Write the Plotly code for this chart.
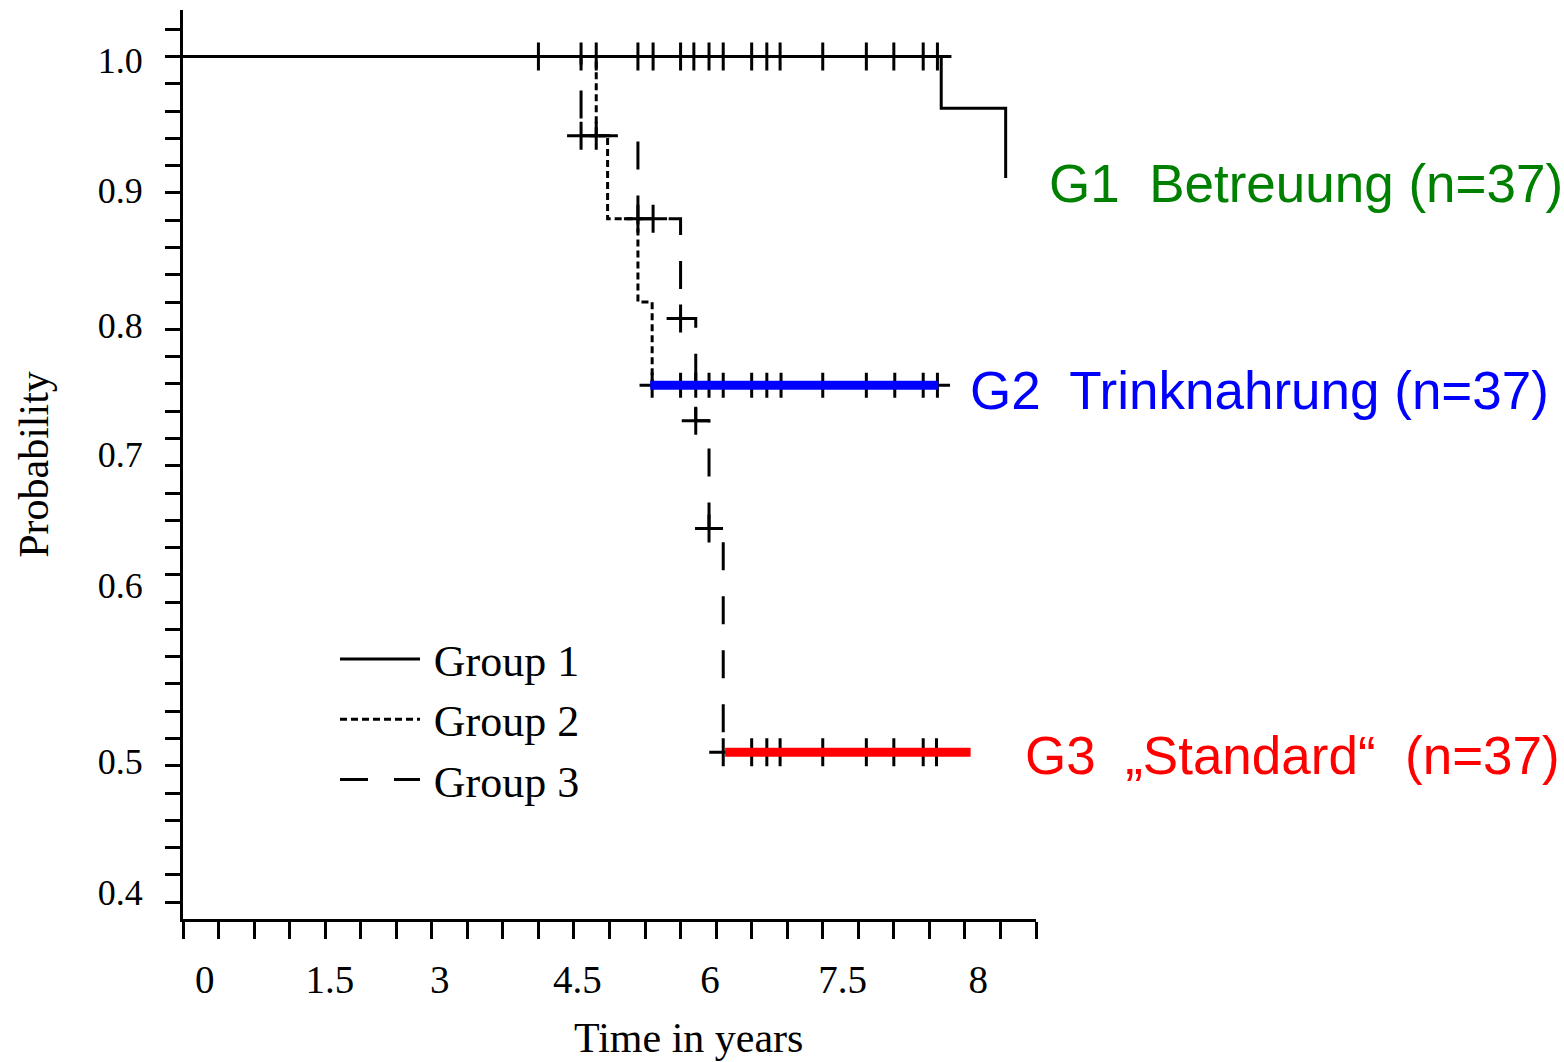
import numpy as np
import plotly.graph_objects as go

# ---------------- data ----------------
# Kaplan-Meier steps: time in years, survival probability after each step
g1_time = [0.0, 8.00, 8.68]
g1_surv = [1.0, 0.962, 0.911]

g2_time = [0.0, 4.36, 4.48, 4.80, 4.95, 7.96]
g2_surv = [1.0, 0.942, 0.881, 0.820, 0.759, 0.759]

g3_time = [0.0, 4.20, 4.80, 5.25, 5.41, 5.55, 5.70, 7.95]
g3_surv = [1.0, 0.942, 0.881, 0.808, 0.733, 0.654, 0.490, 0.490]

# censored observations (times)
g1_cens = [3.75, 4.20, 4.36, 4.80, 4.96, 5.25, 5.39, 5.55, 5.70,
           6.00, 6.16, 6.30, 6.75, 7.21, 7.50, 7.81, 7.96]
g2_cens = [4.95, 5.25, 5.41, 5.55, 5.70, 6.00, 6.16, 6.31, 6.75,
           7.21, 7.51, 7.81, 7.96]
g3_cens = [4.20, 4.36, 4.80, 4.96, 5.25, 5.41, 5.55, 5.70, 6.00,
           6.16, 6.30, 6.75, 7.21, 7.50, 7.81, 7.95]

# highlight bars drawn over the plateaus
hl_g2_time = [4.93, 7.97]
hl_g2_level = [0.759, 0.759]
hl_g3_time = [5.72, 8.31]
hl_g3_level = [0.490, 0.490]

group_names = ["Group 1", "Group 2", "Group 3"]
label_texts = ["G1  Betreuung (n=37)", "G2  Trinknahrung (n=37)",
               "G3  \u201eStandard\u201c  (n=37)"]
label_colors = ["#008000", "#0000ff", "#ff0000"]

# tick labels as printed in the picture (and where they are printed)
x_tick_text = ["0", "1.5", "3", "4.5", "6", "7.5", "8"]
x_tick_pos = [0.23, 1.55, 2.71, 4.16, 5.56, 6.96, 8.39]
y_tick_text = ["1.0", "0.9", "0.8", "0.7", "0.6", "0.5", "0.4"]
y_tick_pos = [0.997, 0.902, 0.803, 0.708, 0.6125, 0.483, 0.387]

x_minor = list(np.arange(0, 9.0001, 0.375))
y_minor = list(np.arange(0.38, 1.0201, 0.02))


def surv_at(t, times, survs):
    s = survs[0]
    for ti, si in zip(times, survs):
        if ti <= t + 1e-9:
            s = si
    return s


SERIF = "Liberation Serif"
SANS = "Liberation Sans"

fig = go.Figure()

curves = [(g1_time, g1_surv, "solid"),
          (g2_time, g2_surv, "7px,4px"),
          (g3_time, g3_surv, "28px,26px")]
for (t, s, dash), name in zip(curves, group_names):
    fig.add_trace(go.Scatter(
        x=t, y=s, mode="lines", name="\u2009" + name, line_shape="hv",
        line=dict(color="black", width=3, dash=dash),
        showlegend=True, cliponaxis=False, hoverinfo="skip"))

for cens, (t, s, _), sz in zip([g1_cens, g2_cens, g3_cens], curves, [20, 18, 20]):
    fig.add_trace(go.Scatter(
        x=cens, y=[surv_at(c, t, s) for c in cens], mode="markers",
        marker=dict(symbol="cross-thin", size=sz,
                    line=dict(color="black", width=3)),
        showlegend=False, cliponaxis=False, hoverinfo="skip"))

fig.add_trace(go.Scatter(x=hl_g2_time, y=hl_g2_level, mode="lines",
                         line=dict(color="#0000ff", width=9),
                         showlegend=False, hoverinfo="skip"))
fig.add_trace(go.Scatter(x=hl_g3_time, y=hl_g3_level, mode="lines",
                         line=dict(color="#ff0000", width=9),
                         showlegend=False, hoverinfo="skip"))

L, T, W, H = 183, 10, 853, 909

# right-hand group labels
label_x_px = [1047, 968, 1023]
label_y_px = [183, 390, 755]
for txt, col, xp, yp in zip(label_texts, label_colors, label_x_px, label_y_px):
    fig.add_annotation(text=txt, xref="paper", yref="paper",
                       x=(xp - L) / W, y=(T + H - yp) / H,
                       xanchor="left", yanchor="middle", showarrow=False,
                       font=dict(family=SANS, size=53, color=col))

# x-axis title (printed off-centre in the picture)
fig.add_annotation(text="Time in years", xref="paper", yref="paper",
                   x=(688 - L) / W, y=(T + H - 1038) / H,
                   xanchor="center", yanchor="middle", showarrow=False,
                   font=dict(family=SERIF, size=42, color="black"))

fig.update_layout(
    width=1564, height=1062,
    margin=dict(l=L, r=1564 - L - W, t=T, b=1062 - T - H),
    paper_bgcolor="white", plot_bgcolor="white",
    showlegend=True,
    legend=dict(x=(335 - L) / W, y=(T + H - 624) / H, xanchor="left",
                yanchor="top", bgcolor="rgba(0,0,0,0)",
                font=dict(family=SERIF, size=44, color="black"),
                itemwidth=80, tracegroupgap=0),
    xaxis=dict(range=[0, 9], showgrid=False, zeroline=False,
               showline=True, linewidth=3, linecolor="black",
               tickmode="array", tickvals=x_tick_pos, ticktext=x_tick_text,
               ticks="", ticklabelstandoff=24,
               tickfont=dict(family=SERIF, size=39, color="black"),
               minor=dict(tickmode="array", tickvals=x_minor, ticks="outside",
                          ticklen=17, tickwidth=3, tickcolor="black",
                          showgrid=False)),
    yaxis=dict(range=[0.3677, 1.0341], showgrid=False, zeroline=False,
               showline=True, linewidth=3, linecolor="black",
               tickmode="array", tickvals=y_tick_pos, ticktext=y_tick_text,
               ticks="", ticklabelstandoff=30,
               tickfont=dict(family=SERIF, size=36, color="black"),
               minor=dict(tickmode="array", tickvals=y_minor, ticks="outside",
                          ticklen=15, tickwidth=3, tickcolor="black",
                          showgrid=False),
               title=dict(text="Probability", standoff=37,
                          font=dict(family=SERIF, size=42, color="black"))),
)

fig.write_html("out.html")
